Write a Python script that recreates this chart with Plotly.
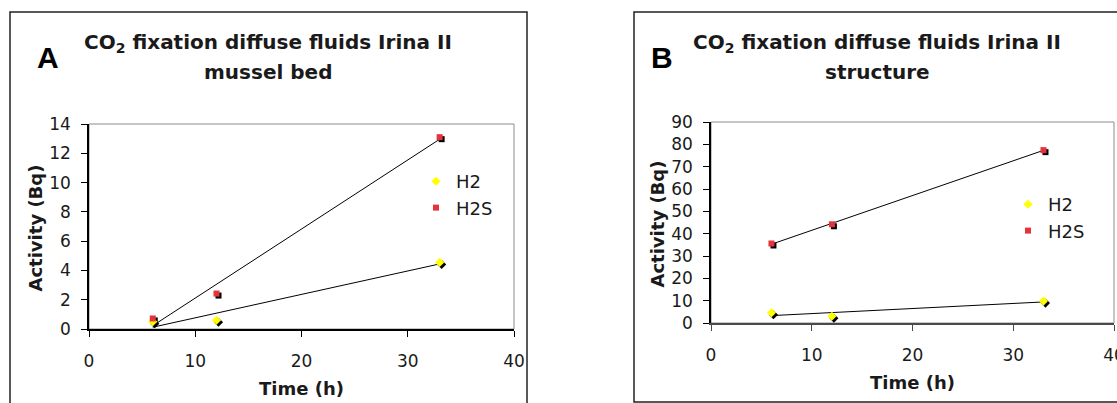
import numpy as np
import plotly.graph_objects as go

W, H = 1117, 403

# ---------------- data ----------------
time_h = [6, 12, 33]
a_h2 = [0.5, 0.6, 4.55]
a_h2s = [0.72, 2.42, 13.1]
b_h2 = [4.6, 3.0, 9.8]
b_h2s = [35.6, 44.2, 77.4]

x_ticks = [0, 10, 20, 30, 40]
a_y_ticks = [0, 2, 4, 6, 8, 10, 12, 14]
b_y_ticks = [0, 10, 20, 30, 40, 50, 60, 70, 80, 90]

series_names = ["H2", "H2S"]
title_line1 = "CO<sub>2</sub> fixation diffuse fluids Irina II"
a_title_line2 = "mussel bed"
b_title_line2 = "structure"
x_title = "Time (h)"
y_title = "Activity (Bq)"

# ---------------- styling ----------------
FONT = "DejaVu Sans"
TXT = "#1a1a1a"
YELLOW = "#FFFF00"
RED = "#E5333B"

def px_x(p):
    return p / W

def px_y(p):
    return 1 - p / H

# plot-area pixel boxes (left, right, top, bottom)
A_box = (89, 514, 124, 329)
B_box = (711, 1114, 122, 323)
SH = 2  # shadow offset in px

fig = go.Figure()

def fit_line(x, y):
    k, b = np.polyfit(x, y, 1)
    xs = np.array([min(x), max(x)])
    return xs, k * xs + b

panels = [
    ("", "3", a_h2, a_h2s, "legend"),
    ("2", "4", b_h2, b_h2s, "legend2"),
]

for sh_id, main_id, h2, h2s, leg in panels:
    fig.add_trace(go.Scatter(x=time_h, y=h2, mode="markers",
                             marker=dict(symbol="diamond", size=7, color="black"),
                             xaxis="x" + sh_id, yaxis="y" + sh_id, showlegend=False,
                             hoverinfo="skip"))
    fig.add_trace(go.Scatter(x=time_h, y=h2s, mode="markers",
                             marker=dict(symbol="square", size=6, color="black"),
                             xaxis="x" + sh_id, yaxis="y" + sh_id, showlegend=False,
                             hoverinfo="skip"))
    for ys in (h2, h2s):
        lx, ly = fit_line(time_h, ys)
        fig.add_trace(go.Scatter(x=lx, y=ly, mode="lines",
                                 line=dict(color="black", width=1),
                                 xaxis="x" + main_id, yaxis="y" + main_id,
                                 showlegend=False, hoverinfo="skip"))
    fig.add_trace(go.Scatter(x=time_h, y=h2, mode="markers", name=series_names[0],
                             marker=dict(symbol="diamond", size=7, color=YELLOW),
                             xaxis="x" + main_id, yaxis="y" + main_id, legend=leg))
    fig.add_trace(go.Scatter(x=time_h, y=h2s, mode="markers", name=series_names[1],
                             marker=dict(symbol="square", size=6, color=RED),
                             xaxis="x" + main_id, yaxis="y" + main_id, legend=leg))

tickfont = dict(family=FONT, size=17, color=TXT)

def main_x(box, anchor, linecolor):
    l, r, t, b = box
    return dict(domain=[px_x(l), px_x(r)], range=[0, 40], tickvals=x_ticks,
                ticks="outside", ticklen=6, tickcolor=linecolor, tickwidth=1,
                showline=True, linecolor=linecolor, linewidth=1.5,
                showgrid=False, zeroline=False, anchor=anchor, automargin=False,
                tickfont=tickfont, ticklabelstandoff=10, ticklabeloverflow="allow",
                fixedrange=True)

def main_y(box, anchor, rng, tv, linecolor):
    l, r, t, b = box
    return dict(domain=[px_y(b), px_y(t)], range=rng, tickvals=tv,
                ticks="outside", ticklen=6, tickcolor=linecolor, tickwidth=1,
                showline=True, linecolor=linecolor, linewidth=1.5,
                showgrid=False, zeroline=False, anchor=anchor, automargin=False,
                tickfont=tickfont, ticklabelstandoff=7, ticklabeloverflow="allow",
                fixedrange=True)

def shadow_x(box, anchor):
    l, r, t, b = box
    return dict(domain=[px_x(l + SH), px_x(r + SH)], range=[0, 40], visible=False,
                anchor=anchor, fixedrange=True, automargin=False)

def shadow_y(box, anchor, rng):
    l, r, t, b = box
    return dict(domain=[px_y(b + SH), px_y(t + SH)], range=rng, visible=False,
                anchor=anchor, fixedrange=True, automargin=False)

legfont = dict(family=FONT, size=18, color=TXT)

fig.update_layout(
    template="none",
    width=W, height=H, margin=dict(l=0, r=0, t=0, b=0, pad=0, autoexpand=False),
    paper_bgcolor="white", plot_bgcolor="rgba(0,0,0,0)",
    xaxis=shadow_x(A_box, "y"), yaxis=shadow_y(A_box, "x", [0, 14]),
    xaxis2=shadow_x(B_box, "y2"), yaxis2=shadow_y(B_box, "x2", [0, 90]),
    xaxis3=main_x(A_box, "y3", "#000000"),
    yaxis3=main_y(A_box, "x3", [0, 14], a_y_ticks, "#000000"),
    xaxis4=main_x(B_box, "y4", "#4a4a4a"),
    yaxis4=main_y(B_box, "x4", [0, 90], b_y_ticks, "#000000"),
    legend=dict(x=px_x(416), y=px_y(163), xanchor="left", yanchor="top",
                font=legfont, bgcolor="rgba(0,0,0,0)", tracegroupgap=0, borderwidth=0),
    legend2=dict(x=px_x(1008), y=px_y(186), xanchor="left", yanchor="top",
                 font=legfont, bgcolor="rgba(0,0,0,0)", tracegroupgap=0, borderwidth=0),
    showlegend=True,
)

shapes = []
shapes.append(dict(type="rect", xref="paper", yref="paper",
                   x0=px_x(10), x1=px_x(527), y0=-0.05, y1=px_y(12),
                   line=dict(color="#222222", width=1.5), layer="below"))
shapes.append(dict(type="rect", xref="paper", yref="paper",
                   x0=px_x(634), x1=1.05, y0=px_y(402), y1=px_y(12),
                   line=dict(color="#222222", width=1.5), layer="below"))
for ax in ("3", "4"):
    shapes.append(dict(type="rect", xref="x%s domain" % ax, yref="y%s domain" % ax,
                       x0=0, x1=1, y0=0, y1=1,
                       line=dict(color="#8c8c8c", width=1), layer="below"))
fig.update_layout(shapes=shapes)

ann = []
title_font = dict(family=FONT, size=20, color=TXT)
letter_font = dict(family="Liberation Sans", size=30, color="#000000")
axis_title_font = dict(family=FONT, size=18, color=TXT)

def bold(s):
    return "<b>" + s + "</b>"

for letter, lx, tx, line2, box in (("A", 48, 268, a_title_line2, A_box),
                                    ("B", 662, 877, b_title_line2, B_box)):
    ann.append(dict(text=bold(letter), x=px_x(lx), y=px_y(57), xref="paper", yref="paper",
                    showarrow=False, xanchor="center", yanchor="middle", font=letter_font))
    ann.append(dict(text=bold(title_line1), x=px_x(tx), y=px_y(43), xref="paper", yref="paper",
                    showarrow=False, xanchor="center", yanchor="middle", font=title_font))
    ann.append(dict(text=bold(line2), x=px_x(tx), y=px_y(72), xref="paper", yref="paper",
                    showarrow=False, xanchor="center", yanchor="middle", font=title_font))
    l, r, t, b = box
    ann.append(dict(text=bold(x_title), x=px_x((l + r) / 2), y=px_y(b + 59),
                    xref="paper", yref="paper", showarrow=False,
                    xanchor="center", yanchor="middle", font=axis_title_font))
    ann.append(dict(text=bold(y_title), x=px_x(l - 54), y=px_y((t + b) / 2 + 2),
                    xref="paper", yref="paper", showarrow=False, textangle=-90,
                    xanchor="center", yanchor="middle", font=axis_title_font))
fig.update_layout(annotations=ann)

fig.write_html("out.html")
